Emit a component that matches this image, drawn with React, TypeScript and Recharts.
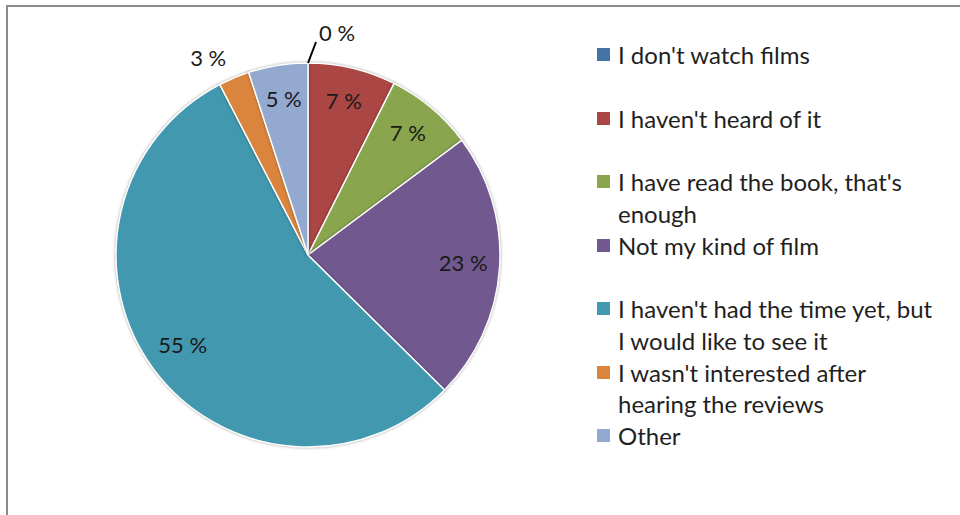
import { Cell, Legend, Pie, PieChart } from 'recharts';

// Why people haven't seen the film yet, share of answers (%)
const CATEGORIES = [
  "I don't watch films",
  "I haven't heard of it",
  "I have read the book, that's enough",
  'Not my kind of film',
  "I haven't had the time yet, but I would like to see it",
  "I wasn't interested after hearing the reviews",
  'Other',
];
const SHARES = [0, 7.4, 7.4, 22.6, 55.0, 2.6, 5.0];
const COLORS = ['#4572A7', '#AA4643', '#89A54E', '#71588F', '#4198AF', '#DB843D', '#93A9CF'];

const data = CATEGORIES.map((name, i) => ({ name, value: SHARES[i] }));

const FONT = 'Lato, "Open Sans", sans-serif';
const RAD = Math.PI / 180;

function polar(cx: number, cy: number, r: number, angle: number) {
  return { x: cx + r * Math.cos(-angle * RAD), y: cy + r * Math.sin(-angle * RAD) };
}

function renderLabel(props: any) {
  const { cx, cy, midAngle, outerRadius, percent, index } = props;
  const text = `${Math.round(percent * 100)} %`;
  const style = { fontFamily: FONT, fontSize: 22, fill: '#1a1a1a' };

  if (percent === 0) {
    // zero slice: leader line out of the top of the pie
    const a = polar(cx, cy, outerRadius, midAngle);
    const b = { x: a.x + 8, y: a.y - 21 };
    return (
      <g key={`lbl-${index}`}>
        <line x1={a.x} y1={a.y} x2={b.x} y2={b.y} stroke="#000" strokeWidth={2} />
        <text x={b.x + 3} y={b.y - 10} textAnchor="start" dominantBaseline="central" {...style}>
          {text}
        </text>
      </g>
    );
  }
  if (percent < 0.04) {
    const p = polar(cx, cy, outerRadius + 20, midAngle);
    return (
      <text key={`lbl-${index}`} x={p.x} y={p.y - 2} textAnchor="end" dominantBaseline="central" {...style}>
        {text}
      </text>
    );
  }
  const p = polar(cx, cy, outerRadius * 0.81, midAngle);
  return (
    <text key={`lbl-${index}`} x={p.x} y={p.y - 3} textAnchor="middle" dominantBaseline="central" {...style}>
      {text}
    </text>
  );
}

function LegendContent({ payload }: any) {
  // keep the legend in data order
  const items = [...(payload || [])].sort(
    (a: any, b: any) => CATEGORIES.indexOf(a.value) - CATEGORIES.indexOf(b.value),
  );
  return (
    <div style={{ fontFamily: FONT, fontSize: 24, color: '#1f1f1f' }}>
      {items.map((entry: any, i: number) => (
        <div key={i} style={{ display: 'flex', height: 63.5, lineHeight: '31.5px' }}>
          <span
            style={{
              width: 13,
              height: 13,
              marginTop: 9,
              marginRight: 8,
              flex: '0 0 13px',
              background: entry.color,
            }}
          />
          <span style={{ width: 318 }}>{entry.value}</span>
        </div>
      ))}
    </div>
  );
}

export default function App() {
  return (
    <div style={{ position: 'fixed', left: 0, top: 0, width: 960, height: 515, background: '#fff', overflow: 'hidden' }}>
      <div
        style={{
          position: 'absolute',
          left: 6,
          top: 5,
          width: 1000,
          height: 600,
          borderTop: '2px solid #8c8c8c',
          borderLeft: '2px solid #8c8c8c',
        }}
      />
      <div style={{ position: 'absolute', left: 0, top: 0 }}>
        <PieChart width={960} height={515} margin={{ top: 0, right: 0, bottom: 0, left: 0 }}>
          <Pie
            data={data}
            dataKey="value"
            nameKey="name"
            cx={308}
            cy={255}
            outerRadius={192}
            startAngle={90}
            endAngle={-270}
            stroke="#fff"
            strokeWidth={1.5}
            label={renderLabel}
            labelLine={false}
            isAnimationActive={false}
            style={{ filter: 'drop-shadow(0 0 1.5px rgba(0,0,0,0.35))' }}
          >
            {data.map((entry, i) => (
              <Cell key={entry.name} fill={COLORS[i]} />
            ))}
          </Pie>
          <Legend
            layout="vertical"
            content={<LegendContent />}
            wrapperStyle={{ left: 597, top: 39, width: 360 }}
          />
        </PieChart>
      </div>
    </div>
  );
}
